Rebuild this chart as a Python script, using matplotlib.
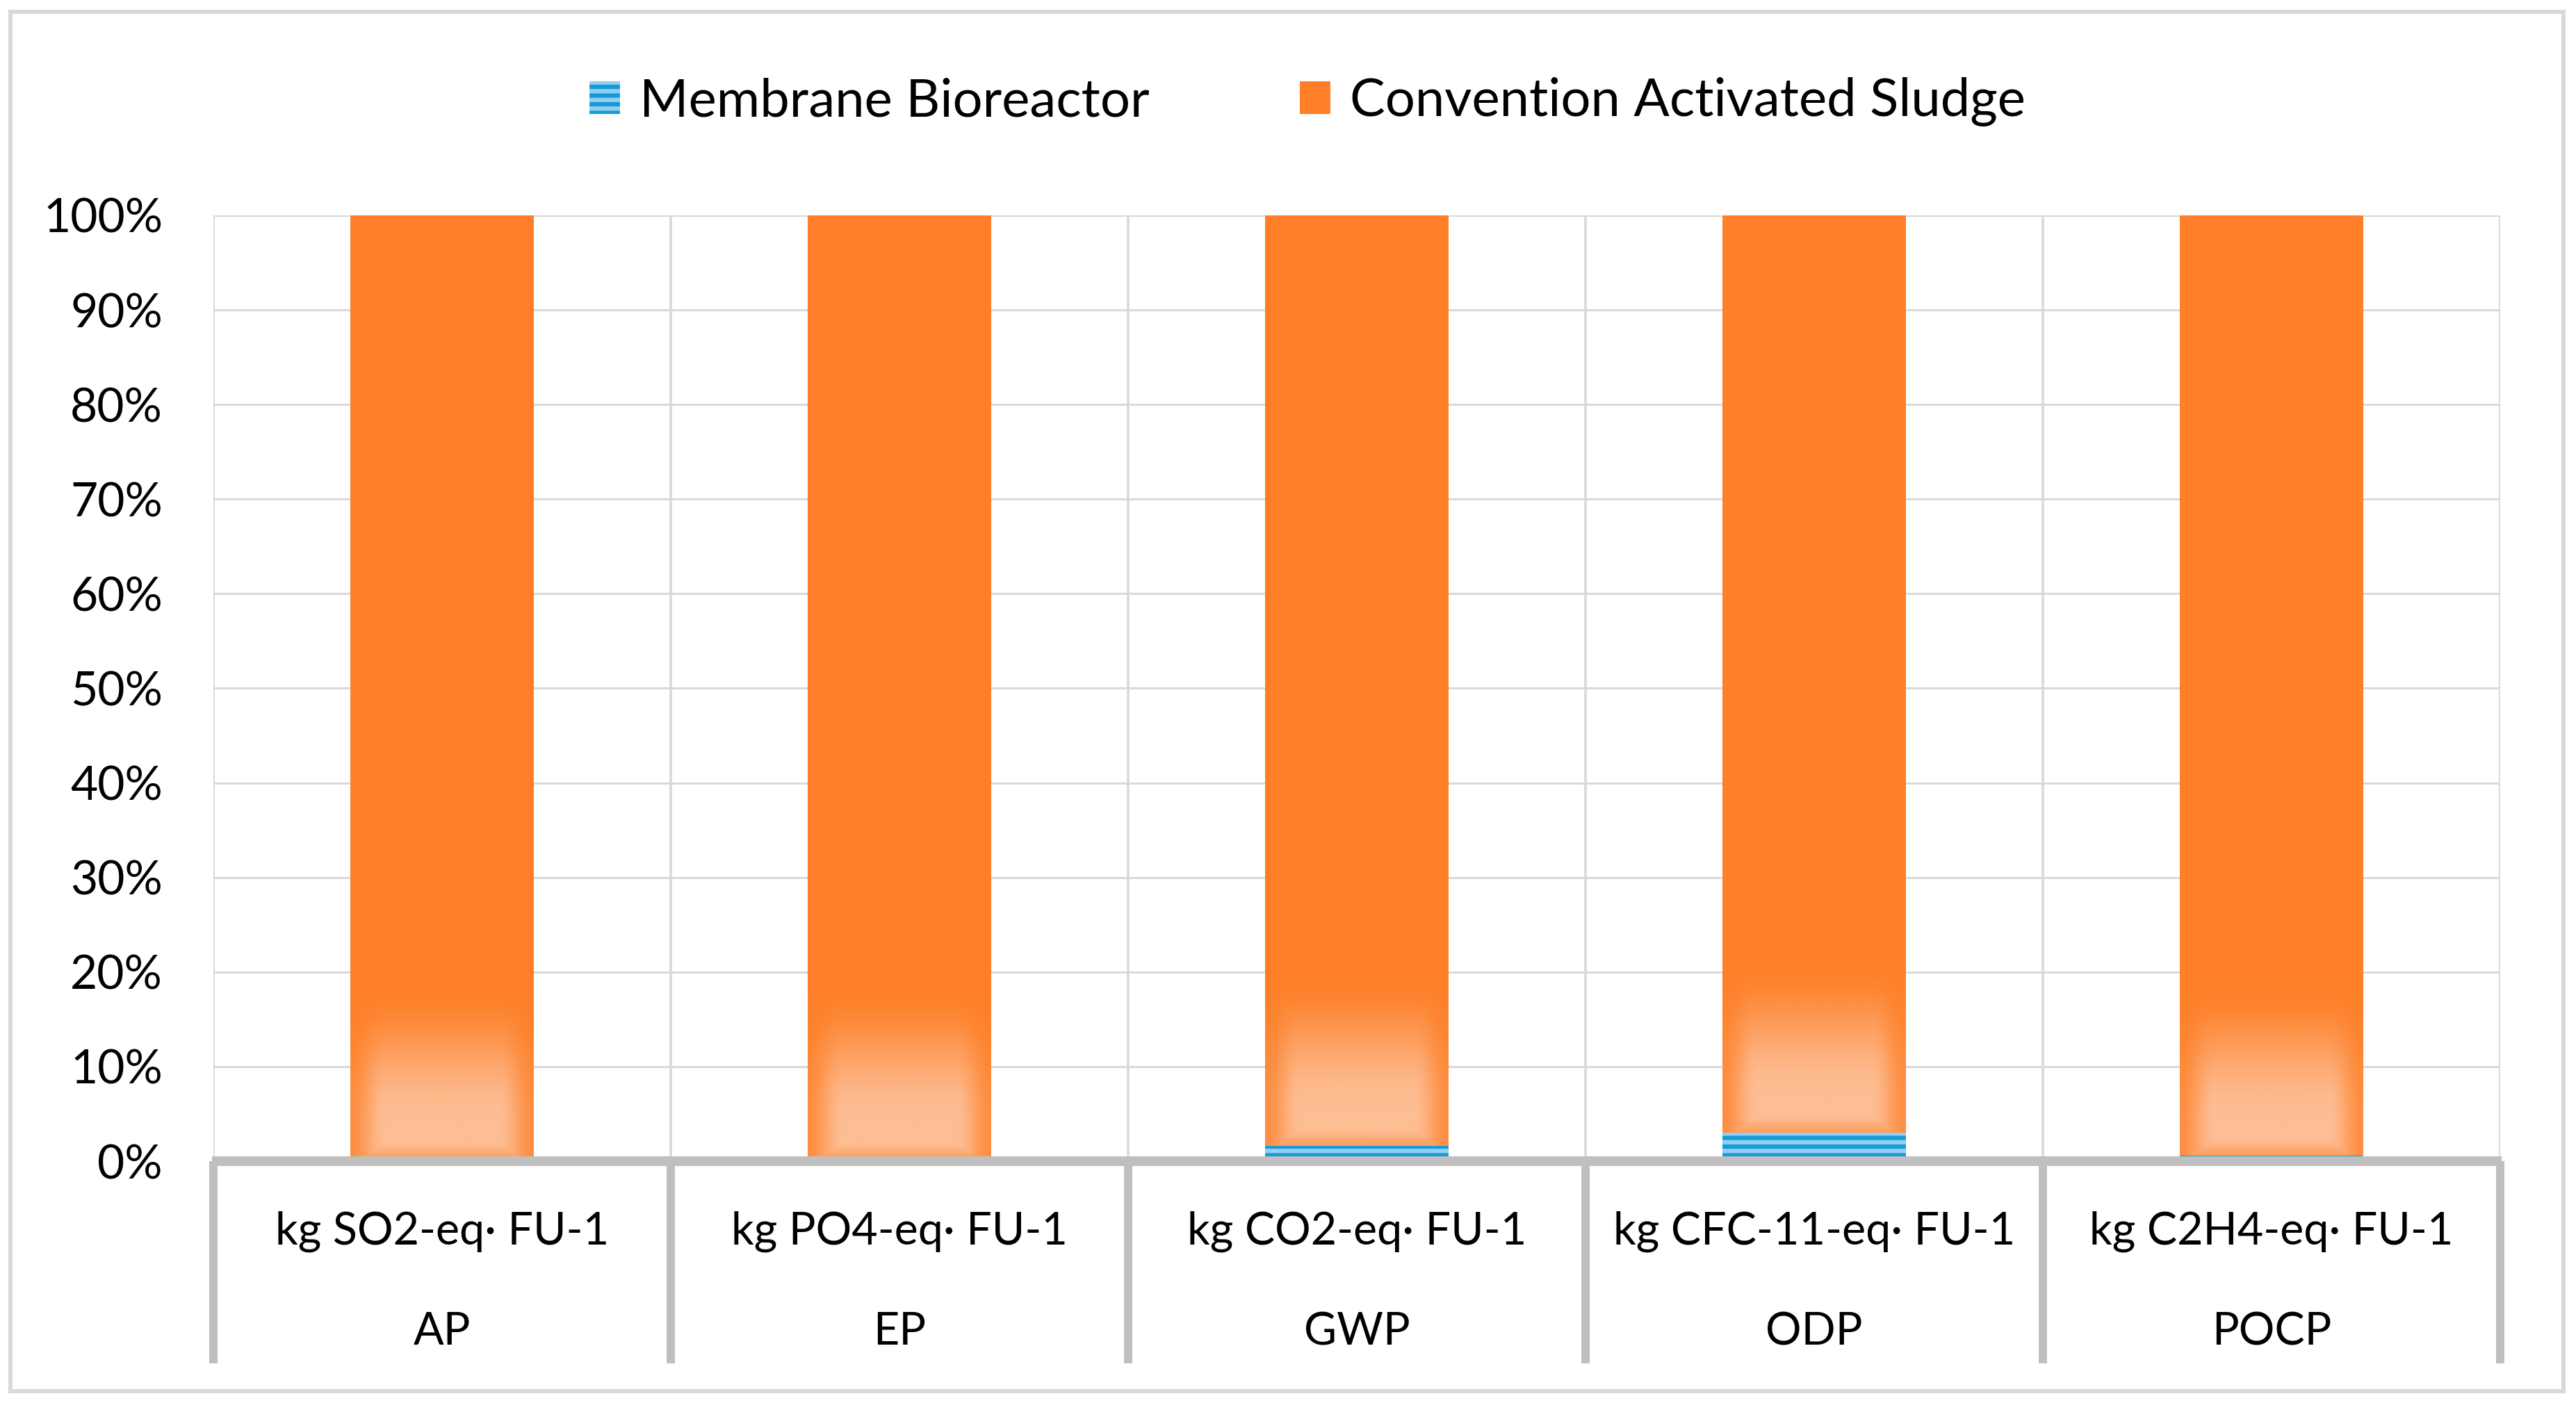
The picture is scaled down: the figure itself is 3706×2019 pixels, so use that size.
import numpy as np
import matplotlib
matplotlib.use("Agg")
import matplotlib.pyplot as plt
from matplotlib.patches import Rectangle
from matplotlib.lines import Line2D
import matplotlib.transforms as mtransforms

# ---------------- data ----------------
categories = ["AP", "EP", "GWP", "ODP", "POCP"]
units = ["kg SO2-eq· FU-1", "kg PO4-eq· FU-1", "kg CO2-eq· FU-1",
         "kg CFC-11-eq· FU-1", "kg C2H4-eq· FU-1"]
mbr_share = [0.2, 0.2, 1.6, 3.0, 0.6]          # Membrane Bioreactor (%)
cas_share = [100 - v for v in mbr_share]        # Convention Activated Sludge (%)
yticks = [0, 10, 20, 30, 40, 50, 60, 70, 80, 90, 100]
ytick_labels = [f"{t}%" for t in yticks]
series_names = ["Membrane Bioreactor", "Convention Activated Sludge"]

# ---------------- style ----------------
DPI = 75
W, H = 3706, 2019
plt.rcParams['font.family'] = ['Lato', 'DejaVu Sans']
plt.rcParams['hatch.linewidth'] = 6.0
FS_TICK = 65
FS_CAT = 62
FS_LEG = 73

ORANGE = '#FE7F27'
LIGHT = np.array([253, 190, 148]) / 255.0
BLUE = '#179BD8'
BLUE_LIGHT = '#93CFF0'
GRID = '#D9D9D9'
AXIS = '#BFBFBF'

fig = plt.figure(figsize=(W / DPI, H / DPI), dpi=DPI)
ax_left, ax_right = 307 / W, 3597 / W
ax_bottom, ax_top = (H - 1671) / H, (H - 310) / H
ax = fig.add_axes([ax_left, ax_bottom, ax_right - ax_left, ax_top - ax_bottom])

x = np.arange(len(categories))
bw = 0.4
b1 = ax.bar(x, mbr_share, bw, color=BLUE, edgecolor=BLUE_LIGHT, linewidth=0,
            hatch='-', label=series_names[0], zorder=2)
b2 = ax.bar(x, cas_share, bw, bottom=mbr_share, color=ORANGE, linewidth=0,
            label=series_names[1], zorder=2)

ax.set_xlim(-0.5, len(categories) - 0.5)
ax.set_ylim(0, 100)


def smooth(e0, e1, v):
    t = np.clip((v - e0) / (e1 - e0), 0, 1)
    return t * t * (3 - 2 * t)


# soft light glow at the base of each orange bar
fade_h = 18.5
for rect in b2.patches:
    x0 = rect.get_x(); x1 = x0 + rect.get_width(); y0 = rect.get_y()
    nh, nw = 260, 262
    rows = np.arange(nh)[:, None] / (nh - 1)
    cols = np.arange(nw)[None, :]
    a_v = 1 - smooth(0.22, 1.0, rows)
    dside = np.minimum(cols, nw - 1 - cols)
    e_side = 0.25 + 0.75 * smooth(0, 50, dside)
    e_bot = 0.55 + 0.45 * smooth(0, 25, rows * (nh - 1))
    alpha = a_v * np.minimum(e_side, e_bot) * np.ones((nh, nw))
    img = np.zeros((nh, nw, 4))
    img[..., :3] = LIGHT
    img[..., 3] = np.clip(alpha, 0, 1)
    im = ax.imshow(img, extent=(x0, x1, y0, y0 + fade_h), origin='lower',
                   aspect='auto', interpolation='bilinear', zorder=2.5)
    im.set_clip_path(rect)

ax.set_xlim(-0.5, len(categories) - 0.5)
ax.set_ylim(0, 100)

# gridlines
ax.set_yticks(yticks)
ax.set_yticklabels(ytick_labels, fontsize=FS_TICK)
ax.yaxis.grid(True, color=GRID, linewidth=2.9)
ax.set_axisbelow(True)
ax.tick_params(axis='y', length=0, pad=70)
ax.tick_params(axis='x', length=0, labelbottom=False)
for s in ax.spines.values():
    s.set_visible(False)
bounds = np.arange(len(categories) + 1) - 0.5
ax.vlines(bounds, 0, 100, colors=GRID, linewidth=3.5, zorder=0.5)

# category axis (two-level table)
trans = mtransforms.blended_transform_factory(ax.transData, ax.transAxes)
ax.plot([-0.503, len(categories) - 0.497], [0, 0], transform=trans,
        color=AXIS, linewidth=13.4, clip_on=False, zorder=5,
        solid_capstyle='butt')
table_bottom = -(1962 - 1671) / 1361
for b in bounds:
    ax.add_line(Line2D([b, b], [0, table_bottom], transform=trans,
                       color=AXIS, linewidth=11.5, clip_on=False, zorder=5,
                       solid_capstyle='butt'))
row1 = -(1790 - 1671) / 1361
row2 = -(1935 - 1671) / 1361
for xi, u, c in zip(x, units, categories):
    ax.text(xi, row1, u, transform=trans, ha='center', va='baseline',
            fontsize=FS_CAT, color='black')
    ax.text(xi, row2, c, transform=trans, ha='center', va='baseline',
            fontsize=FS_CAT, color='black')

# legend
fig.legend(handles=[b1, b2], labels=series_names, loc='center',
           bbox_to_anchor=(1881 / W, 1 - 147 / H), ncol=2, frameon=False,
           fontsize=FS_LEG, handlelength=0.57, handleheight=0.57,
           handletextpad=0.37, columnspacing=2.85, borderpad=0)

# outer chart border
fig.patches.append(Rectangle((15 / W, (H - 2002) / H), (3688 - 15) / W,
                             (2002 - 17) / H, transform=fig.transFigure,
                             fill=False, edgecolor=GRID, linewidth=5.8))

fig.savefig('out.png', dpi=DPI, facecolor='white')
